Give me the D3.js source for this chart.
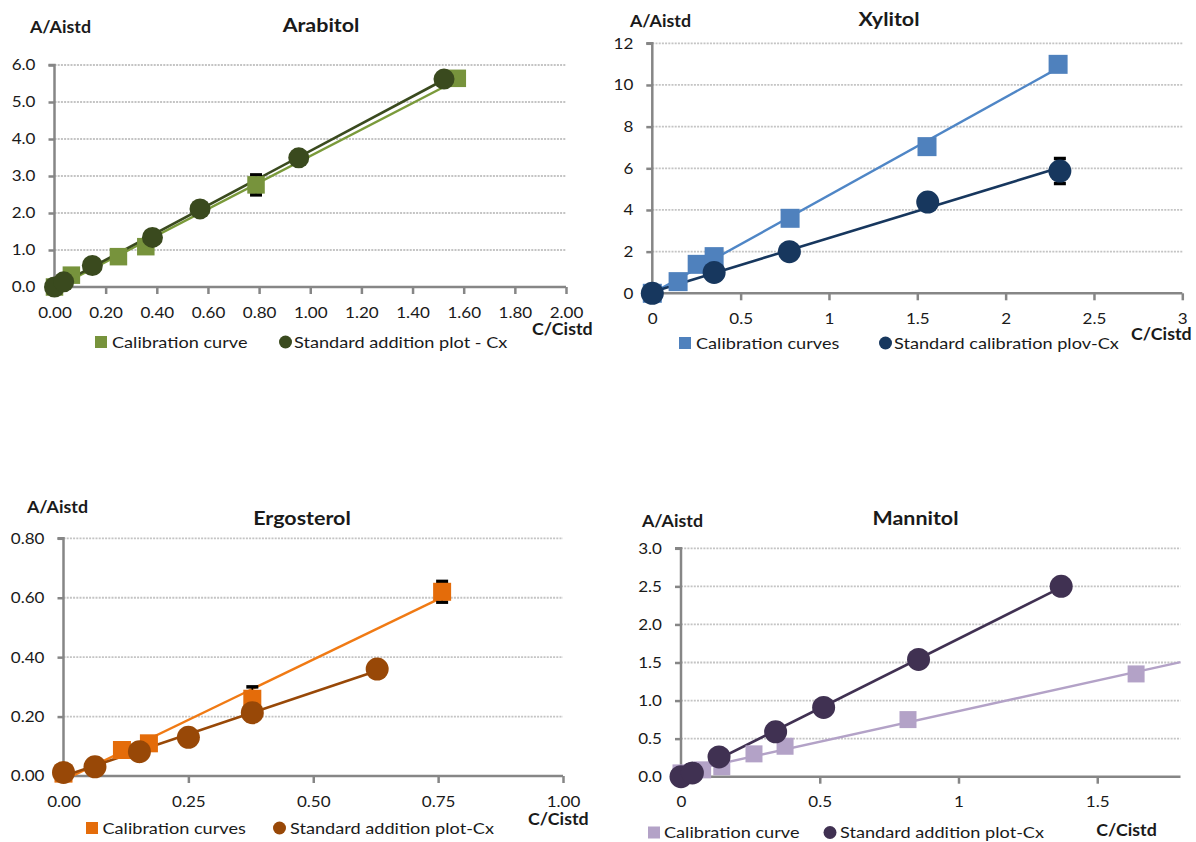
<!DOCTYPE html>
<html><head><meta charset="utf-8">
<script src="https://cdn.jsdelivr.net/npm/d3@7/dist/d3.min.js"></script>
<style>
body{margin:0;background:#fff;}
text{font-family:Lato,"Open Sans",sans-serif;fill:#1a1a1a;}
</style></head>
<body><svg id="c" width="1196" height="842"></svg>
<script>
// ---------- DATA ----------
const panelTitles = ["Arabitol", "Xylitol", "Ergosterol", "Mannitol"];
const yAxisLabel = "A/Aistd";
const xAxisLabel = "C/Cistd";

// Arabitol
const arabitolXTicks = [0, 0.2, 0.4, 0.6, 0.8, 1.0, 1.2, 1.4, 1.6, 1.8, 2.0];
const arabitolYTicks = [0, 1, 2, 3, 4, 5, 6];
const arabitolCalX = [0, 0.066, 0.25, 0.357, 0.788, 1.575];
const arabitolCalY = [0, 0.32, 0.82, 1.09, 2.76, 5.64];
const arabitolCalErr = [0, 0, 0.06, 0, 0.27, 0];
const arabitolStdX = [0, 0.036, 0.148, 0.383, 0.569, 0.955, 1.523];
const arabitolStdY = [0, 0.14, 0.58, 1.34, 2.11, 3.49, 5.62];
const arabitolStdErr = [0, 0, 0, 0, 0, 0, 0];
const arabitolLegend = ["Calibration curve", "Standard addition plot - Cx"];

// Xylitol
const xylitolXTicks = [0, 0.5, 1, 1.5, 2, 2.5, 3];
const xylitolYTicks = [0, 2, 4, 6, 8, 10, 12];
const xylitolCalX = [0, 0.146, 0.254, 0.35, 0.78, 1.555, 2.297];
const xylitolCalY = [0, 0.56, 1.39, 1.76, 3.6, 7.04, 10.99];
const xylitolCalErr = [0, 0, 0, 0, 0, 0, 0];
const xylitolStdX = [0, 0.35, 0.776, 1.559, 2.307];
const xylitolStdY = [0, 1.0, 2.0, 4.38, 5.87];
const xylitolStdErr = [0, 0, 0, 0, 0.6];
const xylitolLegend = ["Calibration curves", "Standard calibration plov-Cx"];

// Ergosterol
const ergosterolXTicks = [0, 0.25, 0.5, 0.75, 1.0];
const ergosterolYTicks = [0, 0.2, 0.4, 0.6, 0.8];
const ergosterolCalX = [0, 0.117, 0.171, 0.378, 0.758];
const ergosterolCalY = [0.008, 0.0875, 0.11, 0.26, 0.62];
const ergosterolCalErr = [0, 0, 0, 0.04, 0.035];
const ergosterolStdX = [0, 0.063, 0.152, 0.25, 0.378, 0.628];
const ergosterolStdY = [0.012, 0.031, 0.082, 0.13, 0.213, 0.36];
const ergosterolStdErr = [0, 0, 0, 0, 0, 0];
const ergosterolLegend = ["Calibration curves", "Standard addition plot-Cx"];

// Mannitol
const mannitolXTicks = [0, 0.5, 1, 1.5];
const mannitolYTicks = [0, 0.5, 1.0, 1.5, 2.0, 2.5, 3.0];
const mannitolCalX = [0, 0.078, 0.147, 0.263, 0.375, 0.818, 1.64];
const mannitolCalY = [0.05, 0.09, 0.13, 0.30, 0.40, 0.75, 1.35];
const mannitolCalErr = [0, 0, 0, 0, 0, 0, 0];
const mannitolStdX = [0, 0.041, 0.137, 0.341, 0.514, 0.856, 1.37];
const mannitolStdY = [0, 0.05, 0.26, 0.59, 0.91, 1.54, 2.5];
const mannitolStdErr = [0, 0, 0, 0, 0, 0, 0];
const mannitolLegend = ["Calibration curve", "Standard addition plot-Cx"];

// ---------- LAYOUT ----------
const svg = d3.select("#c");
svg.append("rect").attr("width",1196).attr("height",842).attr("fill","#fff");

const TICK_FS = 15.5, TICK_SX = 1.1;
const LEG_FS = 15.5, LEG_SX = 1.17;
const LAB_FS = 16.5, LAB_SX = 1.08;
const TITLE_FS = 19.5, TITLE_SX = 1.1;
const YGAP = 19;

const panels = [
 {title:panelTitles[0], xd:[0,2], yd:[0,6], xt:arabitolXTicks, yt:arabitolYTicks, xf:d3.format(".2f"), yf:d3.format(".1f"),
  calX:arabitolCalX, calY:arabitolCalY, calE:arabitolCalErr, stdX:arabitolStdX, stdY:arabitolStdY, stdE:arabitolStdErr, legend:arabitolLegend,
  x0:54.5, x1:566, yTop:65, yBot:287, calColor:"#77933C", calLine:"#7A9A3A", stdColor:"#3A4A1E", stdLine:"#3A4A1E",
  sq:17.5, r:10.5, title_xy:[321,32], ylab:[30,33], xlab:[532,335], xlabAnchor:"start",
  leg:{sq:[95,342], t1:112, c:[285.5,342], t2:294, base:347.5}, extend:false},
 {title:panelTitles[1], xd:[0,3], yd:[0,12], xt:xylitolXTicks, yt:xylitolYTicks, xf:d3.format("~g"), yf:d3.format("~g"),
  calX:xylitolCalX, calY:xylitolCalY, calE:xylitolCalErr, stdX:xylitolStdX, stdY:xylitolStdY, stdE:xylitolStdErr, legend:xylitolLegend,
  x0:652.3, x1:1182.3, yTop:43.3, yBot:293.3, calColor:"#4F81BD", calLine:"#4F86C6", stdColor:"#17375E", stdLine:"#17375E",
  sq:19, r:11.5, title_xy:[889,26], ylab:[630,27], xlab:[1131,340], xlabAnchor:"start",
  leg:{sq:[679,343], t1:696, c:[885.5,343], t2:894, base:349}, extend:false},
 {title:panelTitles[2], xd:[0,1], yd:[0,0.8], xt:ergosterolXTicks, yt:ergosterolYTicks, xf:d3.format(".2f"), yf:d3.format(".2f"),
  calX:ergosterolCalX, calY:ergosterolCalY, calE:ergosterolCalErr, stdX:ergosterolStdX, stdY:ergosterolStdY, stdE:ergosterolStdErr, legend:ergosterolLegend,
  x0:63.5, x1:563, yTop:538.3, yBot:776, calColor:"#E46C0A", calLine:"#F07A14", stdColor:"#984807", stdLine:"#984807",
  sq:18, r:11.5, title_xy:[302,525], ylab:[27,513], xlab:[528,825], xlabAnchor:"start",
  leg:{sq:[86,828], t1:102.5, c:[279.5,828], t2:290, base:834}, extend:false},
 {title:panelTitles[3], xd:[0,1.8], yd:[0,3], xt:mannitolXTicks, yt:mannitolYTicks, xf:d3.format("~g"), yf:d3.format(".1f"),
  calX:mannitolCalX, calY:mannitolCalY, calE:mannitolCalErr, stdX:mannitolStdX, stdY:mannitolStdY, stdE:mannitolStdErr, legend:mannitolLegend,
  x0:681, x1:1180.5, yTop:548.3, yBot:776.7, calColor:"#B3A2C7", calLine:"#B3A2C7", stdColor:"#403152", stdLine:"#403152",
  sq:17, r:11.5, title_xy:[915.5,525], ylab:[642,527], xlab:[1126.5,836], xlabAnchor:"middle",
  leg:{sq:[648,832.5], t1:664, c:[830,832.5], t2:840, base:838}, extend:true}
];

function fit(xs, ys){
  const mx=d3.mean(xs), my=d3.mean(ys);
  let sxy=0,sxx=0;
  xs.forEach((x,i)=>{sxy+=(x-mx)*(ys[i]-my); sxx+=(x-mx)*(x-mx);});
  const b=sxy/sxx; return {b, a:my-b*mx};
}
function addText(g, x, y, str, fs, sx, opts={}){
  return g.append("text").attr("transform",`translate(${x},${y}) scale(${sx},1)`)
    .attr("font-size",fs).attr("font-weight",opts.bold?"bold":"normal")
    .attr("text-anchor",opts.anchor||"start").attr("fill",opts.fill||"#1a1a1a").text(str);
}

panels.forEach((p,pi)=>{
  const x=d3.scaleLinear().domain(p.xd).range([p.x0,p.x1]);
  const y=d3.scaleLinear().domain(p.yd).range([p.yBot,p.yTop]);
  const g=svg.append("g");
  const clipId="clip"+pi;
  g.append("clipPath").attr("id",clipId).append("rect")
    .attr("x",p.x0-20).attr("y",p.yTop-20).attr("width",p.x1-p.x0+40).attr("height",p.yBot-p.yTop+20);

  // gridlines
  g.selectAll(".grid").data(p.yt.filter(v=>v!==0)).join("line")
    .attr("x1",p.x0).attr("x2",p.x1).attr("y1",d=>y(d)).attr("y2",d=>y(d))
    .attr("stroke","#c4c4c4").attr("stroke-width",1.8).attr("stroke-dasharray","2,1.2");

  // y axis
  const ya=g.append("g").attr("transform",`translate(${p.x0},0)`)
    .call(d3.axisLeft(y).tickValues(p.yt).tickFormat(p.yf).tickSize(6).tickPadding(YGAP-6));
  ya.select(".domain").attr("stroke","#868686").attr("stroke-width",2.5).attr("d",`M-6,${p.yTop}H0V${p.yBot}`);
  ya.selectAll(".tick line").attr("stroke","#868686").attr("stroke-width",2.5);
  ya.selectAll(".tick text").attr("font-size",TICK_FS).attr("font-family","Lato").attr("fill","#262626")
    .attr("x",-YGAP/TICK_SX).attr("transform",`scale(${TICK_SX},1)`);

  // x axis
  const xa=g.append("g").attr("transform",`translate(0,${p.yBot})`)
    .call(d3.axisBottom(x).tickValues(p.xt).tickFormat(p.xf).tickSize(7).tickPadding(12.5));
  xa.select(".domain").attr("stroke","#868686").attr("stroke-width",2.5).attr("d",`M${p.x0},0H${p.x1}`);
  xa.selectAll(".tick line").attr("stroke","#868686").attr("stroke-width",2.5);
  xa.selectAll(".tick text").attr("font-size",TICK_FS).attr("font-family","Lato").attr("fill","#262626")
    .attr("transform",`scale(${TICK_SX},1)`);

  // trend lines
  const lineG=g.append("g").attr("clip-path",`url(#${clipId})`);
  [[p.calX,p.calY,p.calLine,2.4,p.extend],[p.stdX,p.stdY,p.stdLine,2.6,false]].forEach(([xs,ys,col,w,ext])=>{
    const f=fit(xs,ys);
    const xa0=d3.min(xs), xa1=ext?p.xd[1]:d3.max(xs);
    lineG.append("line").attr("x1",x(xa0)).attr("y1",y(f.a+f.b*xa0))
      .attr("x2",x(xa1)).attr("y2",y(f.a+f.b*xa1)).attr("stroke",col).attr("stroke-width",w);
  });

  // error bars
  const eb=(xs,ys,es)=>{
    xs.forEach((xv,i)=>{ if(!es[i]) return;
      const cx=x(xv), t=y(ys[i]+es[i]), b=y(ys[i]-es[i]);
      g.append("line").attr("x1",cx).attr("x2",cx).attr("y1",t).attr("y2",b).attr("stroke","#000").attr("stroke-width",1.5);
      [t,b].forEach(yy=>g.append("line").attr("x1",cx-6).attr("x2",cx+6).attr("y1",yy).attr("y2",yy).attr("stroke","#000").attr("stroke-width",3.5));
    });
  };
  eb(p.calX,p.calY,p.calE);
  eb(p.stdX,p.stdY,p.stdE);

  // markers
  g.selectAll(".sq").data(p.calX.map((v,i)=>[v,p.calY[i]])).join("rect")
    .attr("x",d=>x(d[0])-p.sq/2).attr("y",d=>y(d[1])-p.sq/2).attr("width",p.sq).attr("height",p.sq)
    .attr("fill",p.calColor);
  g.selectAll(".ci").data(p.stdX.map((v,i)=>[v,p.stdY[i]])).join("circle")
    .attr("cx",d=>x(d[0])).attr("cy",d=>y(d[1])).attr("r",p.r).attr("fill",p.stdColor);

  // titles
  addText(g, p.title_xy[0], p.title_xy[1], p.title, TITLE_FS, TITLE_SX, {bold:true, anchor:"middle"});
  addText(g, p.ylab[0], p.ylab[1], yAxisLabel, LAB_FS, LAB_SX, {bold:true});
  addText(g, p.xlab[0], p.xlab[1], xAxisLabel, LAB_FS, LAB_SX, {bold:true, anchor:p.xlabAnchor});

  // legend
  const L=p.leg;
  g.append("rect").attr("x",L.sq[0]).attr("y",L.sq[1]-6).attr("width",12).attr("height",12).attr("fill",p.calColor);
  addText(g, L.t1, L.base, p.legend[0], LEG_FS, LEG_SX, {fill:"#333"});
  g.append("circle").attr("cx",L.c[0]).attr("cy",L.c[1]).attr("r",6.5).attr("fill",p.stdColor);
  addText(g, L.t2, L.base, p.legend[1], LEG_FS, LEG_SX, {fill:"#333"});
});
</script></body></html>
